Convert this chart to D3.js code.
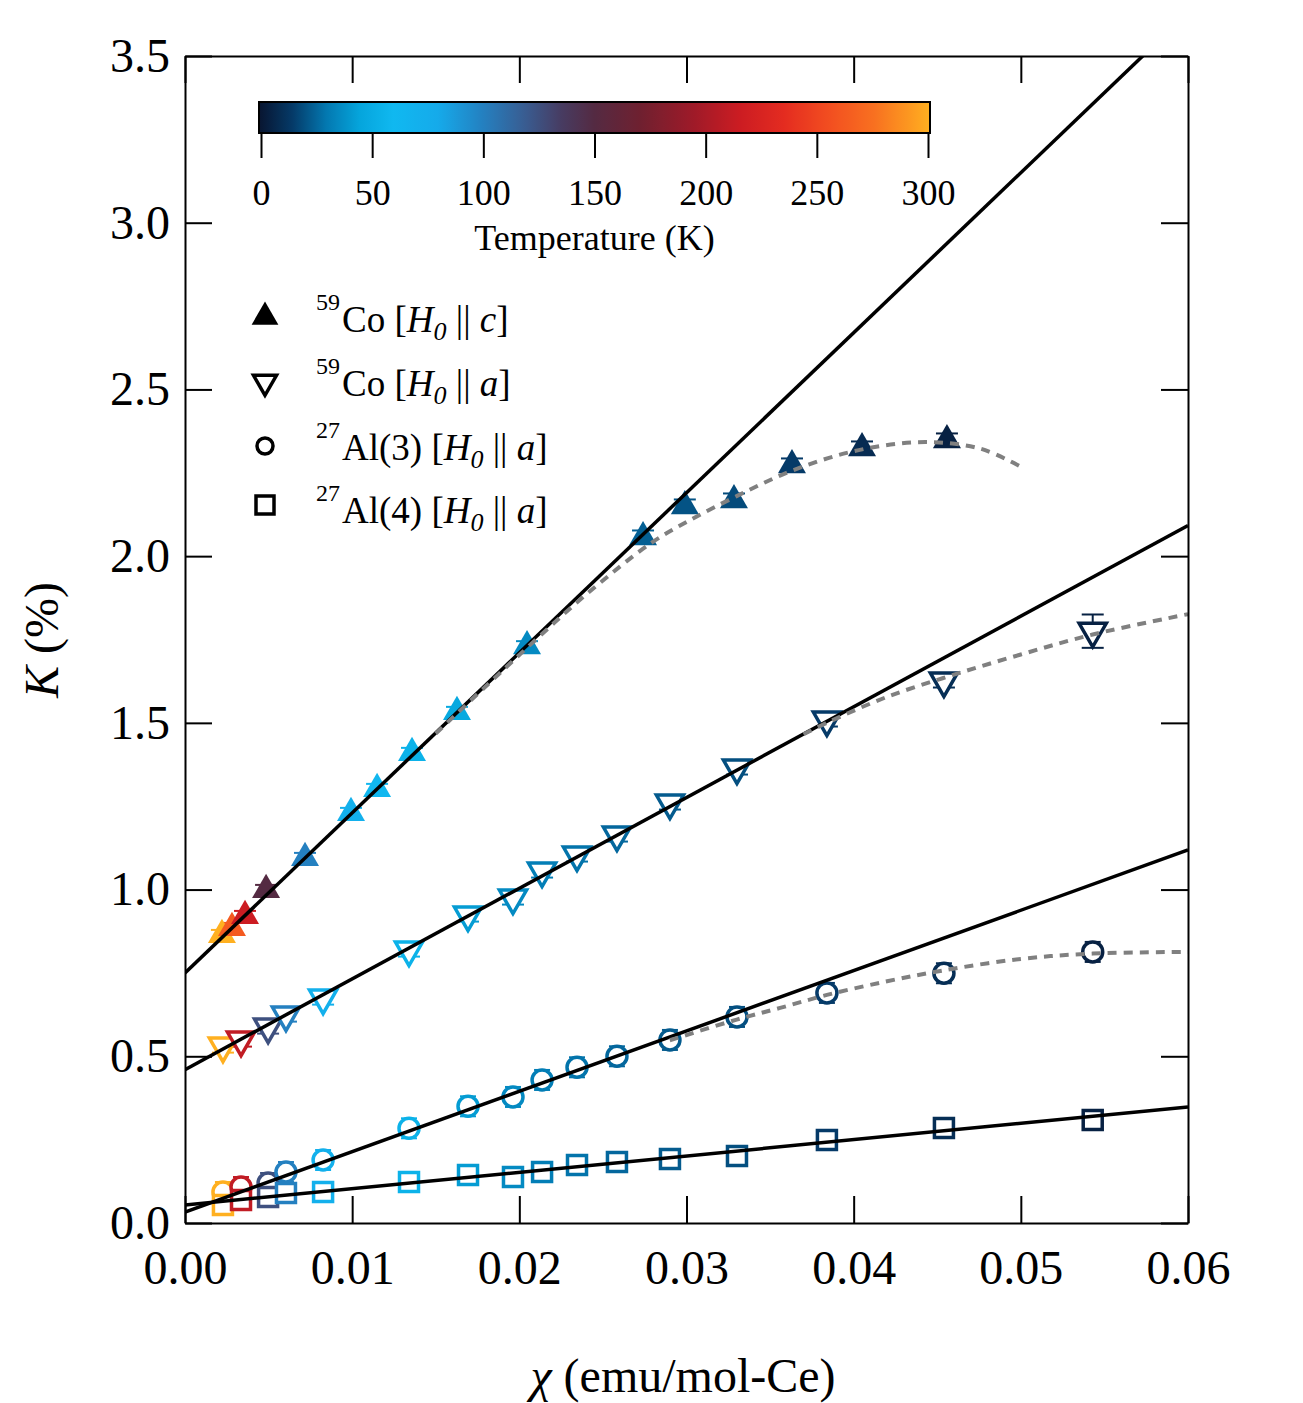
<!DOCTYPE html>
<html>
<head>
<meta charset="utf-8">
<script src="https://cdn.jsdelivr.net/npm/d3@7"></script>
<style>
  html, body { margin: 0; padding: 0; background: #fff; }
  svg { display: block; }
  text { font-family: "Liberation Serif", "Times New Roman", serif; fill: #000; }
</style>
</head>
<body>
<svg id="chart" width="1303" height="1403"></svg>
<script>
// ---------------- DATA ----------------
// 59Co, H0 || c  (filled up-triangles)
const chiC   = [0.00221, 0.00281, 0.00359, 0.00485, 0.00718, 0.00993, 0.01149, 0.01358, 0.01627, 0.02046, 0.0274, 0.0299, 0.03284, 0.03631, 0.0405, 0.04558];
const kCoC   = [0.864, 0.885, 0.921, 0.999, 1.095, 1.230, 1.302, 1.410, 1.533, 1.730, 2.057, 2.150, 2.168, 2.273, 2.324, 2.348];
const errCoC = [0.015, 0.015, 0.015, 0.015, 0.015, 0.015, 0.015, 0.015, 0.015, 0.015, 0.02, 0.02, 0.02, 0.02, 0.02, 0.02];
const tempC  = [300, 262, 215, 150, 100, 72, 62, 55, 48, 36, 24, 21, 19, 15, 9, 5];

// H0 || a  (shared susceptibility / temperature)
const chiA   = [0.00227, 0.00335, 0.00497, 0.00604, 0.00826, 0.0134, 0.01693, 0.01962, 0.02136, 0.02345, 0.02584, 0.02901, 0.03302, 0.0384, 0.0454, 0.0543];
const tempA  = [300, 210, 125, 100, 72, 55, 42, 36, 32, 29, 26, 23, 20, 15, 10, 5];
const kCoA   = [0.531, 0.549, 0.588, 0.624, 0.675, 0.819, 0.924, 0.975, 1.056, 1.104, 1.164, 1.260, 1.365, 1.509, 1.626, 1.775];
const errCoA = [0.02, 0.02, 0.02, 0.02, 0.02, 0.02, 0.02, 0.02, 0.02, 0.02, 0.02, 0.02, 0.02, 0.02, 0.02, 0.05];
const kAl3   = [0.093, 0.108, 0.120, 0.153, 0.189, 0.284, 0.350, 0.378, 0.429, 0.467, 0.500, 0.549, 0.618, 0.690, 0.749, 0.813];
const errAl3 = [0.03, 0.03, 0.03, 0.03, 0.03, 0.03, 0.03, 0.03, 0.03, 0.03, 0.03, 0.03, 0.03, 0.03, 0.03, 0.03];
const kAl4   = [0.054, 0.069, 0.078, 0.090, 0.093, 0.123, 0.144, 0.138, 0.153, 0.174, 0.183, 0.192, 0.201, 0.249, 0.285, 0.309];
const errAl4 = [0.01, 0.01, 0.01, 0.01, 0.01, 0.01, 0.01, 0.01, 0.01, 0.01, 0.01, 0.01, 0.01, 0.01, 0.01, 0.01];

// linear fits K = a + b*chi  (CoC, CoA, Al3, Al4)
const fitIntercept = [0.75, 0.46, 0.033, 0.054];
const fitSlope     = [48.0, 27.2, 18.1, 4.9];

// dashed guide curves
const dashCoCx = [0.015, 0.018, 0.021, 0.024, 0.0279, 0.0301, 0.033, 0.0364, 0.0403, 0.0443, 0.0476, 0.050];
const dashCoCk = [1.468, 1.610, 1.750, 1.885, 2.040, 2.105, 2.180, 2.258, 2.318, 2.342, 2.322, 2.268];
const dashCoAx = [0.037, 0.0386, 0.042, 0.0459, 0.050, 0.0543, 0.060];
const dashCoAk = [1.466, 1.505, 1.578, 1.643, 1.705, 1.765, 1.826];
const dashAl3x = [0.029, 0.033, 0.0356, 0.0384, 0.042, 0.0453, 0.050, 0.0543, 0.060];
const dashAl3k = [0.548, 0.610, 0.645, 0.684, 0.725, 0.757, 0.792, 0.808, 0.813];

// ticks
const xTicks = [0, 0.01, 0.02, 0.03, 0.04, 0.05, 0.06];
const yTicks = [0, 0.5, 1.0, 1.5, 2.0, 2.5, 3.0, 3.5];
const tTicks = [0, 50, 100, 150, 200, 250, 300];

// colormap stops (temperature -> colour)
const cmapT = [0, 15, 30, 45, 60, 80, 100, 120, 135, 150, 170, 195, 215, 235, 255, 275, 300];
const cmapC = ["#081530", "#053a68", "#0378b0", "#05a5dc", "#10b8f0", "#15aaea", "#2480c0", "#3a5a8e", "#473c62", "#542a42", "#6e2030", "#a01a28", "#cc1c22", "#e42c20", "#f24e20", "#f87020", "#ffb020"];

// legend labels
const legendIso  = ["59", "59", "27", "27"];
const legendName = ["Co", "Co", "Al(3)", "Al(4)"];
const legendDir  = ["c", "a", "a", "a"];

// ---------------- DRAW ----------------
const svg = d3.select("#chart");
const L = 185, R = 1188, T = 56, B = 1223;
const x = d3.scaleLinear().domain([0, 0.06]).range([L, R]);
const y = d3.scaleLinear().domain([0, 3.5]).range([B, T]);
const color = d3.scaleLinear().domain(cmapT).range(cmapC).interpolate(d3.interpolateRgb).clamp(true);

svg.append("rect").attr("width", 1303).attr("height", 1403).attr("fill", "#fff");

svg.append("defs").append("clipPath").attr("id", "clip")
  .append("rect").attr("x", L).attr("y", T).attr("width", R - L).attr("height", B - T);

const plot = svg.append("g").attr("clip-path", "url(#clip)");

// error bars + markers
function drawSeries(xs, ks, errs, temps, shape, capW) {
  const data = xs.map((c, i) => ({c, k: ks[i], e: errs[i], t: temps[i]}));
  const g = plot.append("g");
  const eb = g.selectAll("g.eb").data(data).join("g").attr("stroke", d => color(d.t)).attr("stroke-width", 2);
  eb.append("line").attr("x1", d => x(d.c)).attr("x2", d => x(d.c)).attr("y1", d => y(d.k - d.e)).attr("y2", d => y(d.k + d.e));
  eb.append("line").attr("x1", d => x(d.c) - capW / 2).attr("x2", d => x(d.c) + capW / 2).attr("y1", d => y(d.k - d.e)).attr("y2", d => y(d.k - d.e));
  eb.append("line").attr("x1", d => x(d.c) - capW / 2).attr("x2", d => x(d.c) + capW / 2).attr("y1", d => y(d.k + d.e)).attr("y2", d => y(d.k + d.e));
  const m = g.selectAll("path.m").data(data).join("path");
  if (shape === "up") {
    m.attr("d", d3.symbol(d3.symbolTriangle, 340)()).attr("fill", d => color(d.t))
     .attr("transform", d => `translate(${x(d.c)},${y(d.k)})`);
  } else if (shape === "down") {
    m.attr("d", d3.symbol(d3.symbolTriangle, 320)()).attr("fill", "#fff").attr("stroke", d => color(d.t)).attr("stroke-width", 3.5)
     .attr("stroke-linejoin", "miter")
     .attr("transform", d => `translate(${x(d.c)},${y(d.k)}) rotate(180)`);
  } else if (shape === "circle") {
    m.attr("d", d3.symbol(d3.symbolCircle, Math.PI * 10 * 10)()).attr("fill", "#fff").attr("stroke", d => color(d.t)).attr("stroke-width", 3.5)
     .attr("transform", d => `translate(${x(d.c)},${y(d.k)})`);
  } else {
    m.attr("d", d3.symbol(d3.symbolSquare, 19 * 19)()).attr("fill", "#fff").attr("stroke", d => color(d.t)).attr("stroke-width", 3.5)
     .attr("transform", d => `translate(${x(d.c)},${y(d.k)})`);
  }
}
drawSeries(chiA, kAl3, errAl3, tempA, "circle", 16);
drawSeries(chiA, kAl4, errAl4, tempA, "square", 14);
drawSeries(chiA, kCoA, errCoA, tempA, "down", 22);
drawSeries(chiC, kCoC, errCoC, tempC, "up", 22);

// fit lines
fitIntercept.forEach((a, i) => {
  const b = fitSlope[i];
  const pts = [0, 0.06].map(c => [x(c), y(a + b * c)]);
  plot.append("path").attr("d", d3.line()(pts)).attr("fill", "none").attr("stroke", "#000").attr("stroke-width", 3.5);
});

// dashed curves
[[dashCoCx, dashCoCk], [dashCoAx, dashCoAk], [dashAl3x, dashAl3k]].forEach(([xs, ks]) => {
  const line = d3.line().x(d => x(d[0])).y(d => y(d[1])).curve(d3.curveCatmullRom);
  plot.append("path").attr("d", line(xs.map((c, i) => [c, ks[i]])))
    .attr("fill", "none").attr("stroke", "#808080").attr("stroke-width", 4).attr("stroke-dasharray", "9,7");
});

// axes
const tickLen = 27;
const fontAxis = 48;
const gx = svg.append("g").attr("transform", `translate(0,${B})`)
  .call(d3.axisBottom(x).tickValues(xTicks).tickFormat(d3.format(".2f")).tickSizeInner(-tickLen).tickSizeOuter(0).tickPadding(27));
const gxt = svg.append("g").attr("transform", `translate(0,${T})`)
  .call(d3.axisTop(x).tickValues(xTicks).tickFormat("").tickSizeInner(-tickLen).tickSizeOuter(0));
const gy = svg.append("g").attr("transform", `translate(${L},0)`)
  .call(d3.axisLeft(y).tickValues(yTicks).tickFormat(d3.format(".1f")).tickSizeInner(-tickLen).tickSizeOuter(0).tickPadding(15));
const gyr = svg.append("g").attr("transform", `translate(${R},0)`)
  .call(d3.axisRight(y).tickValues(yTicks).tickFormat("").tickSizeInner(-tickLen).tickSizeOuter(0));
[gx, gxt, gy, gyr].forEach(g => {
  g.selectAll("path.domain").attr("stroke", "#000").attr("stroke-width", 2);
  g.selectAll(".tick line").attr("stroke", "#000").attr("stroke-width", 2);
  g.selectAll("text").attr("font-family", "Liberation Serif, Times New Roman, serif").attr("font-size", fontAxis).attr("fill", "#000");
});

// axis titles
svg.append("text").attr("transform", `translate(58,640) rotate(-90)`).attr("text-anchor", "middle")
  .attr("font-size", 48)
  .call(t => { t.append("tspan").attr("font-style", "italic").text("K"); t.append("tspan").text(" (%)"); });
svg.append("text").attr("x", 683).attr("y", 1392).attr("text-anchor", "middle").attr("font-size", 48)
  .call(t => { t.append("tspan").attr("font-style", "italic").text("χ"); t.append("tspan").text(" (emu/mol-Ce)"); });

// colorbar
const cb = d3.scaleLinear().domain([0, 300]).range([261, 928]);
const grad = svg.select("defs").append("linearGradient").attr("id", "cbgrad").attr("x1", "0%").attr("x2", "100%").attr("y1", "0%").attr("y2", "0%");
d3.range(0, 301, 5).forEach(t => grad.append("stop").attr("offset", (t / 300 * 100) + "%").attr("stop-color", color(t)));
svg.append("rect").attr("x", cb(0) - 2).attr("y", 102).attr("width", cb(300) - cb(0) + 4).attr("height", 31)
  .attr("fill", "url(#cbgrad)").attr("stroke", "#000").attr("stroke-width", 2);
const gcb = svg.append("g").attr("transform", "translate(0,133)")
  .call(d3.axisBottom(cb).tickValues(tTicks).tickFormat(d3.format("d")).tickSizeInner(25).tickSizeOuter(0).tickPadding(21));
gcb.select("path.domain").remove();
gcb.selectAll(".tick line").attr("stroke", "#000").attr("stroke-width", 2);
gcb.selectAll("text").attr("font-family", "Liberation Serif, Times New Roman, serif").attr("font-size", 36).attr("fill", "#000");
svg.append("text").attr("x", cb(150)).attr("y", 250).attr("text-anchor", "middle").attr("font-size", 36).text("Temperature (K)");

// legend
const legY = [317, 382, 446, 505];
const legBase = [332, 396, 460, 523];
const lg = svg.append("g");
lg.append("path").attr("d", d3.symbol(d3.symbolTriangle, 310)()).attr("transform", `translate(265,${legY[0]})`).attr("fill", "#000");
lg.append("path").attr("d", d3.symbol(d3.symbolTriangle, 230)()).attr("transform", `translate(265,${legY[1]}) rotate(180)`).attr("fill", "none").attr("stroke", "#000").attr("stroke-width", 3.5);
lg.append("circle").attr("cx", 265).attr("cy", legY[2]).attr("r", 8).attr("fill", "none").attr("stroke", "#000").attr("stroke-width", 3.5);
lg.append("rect").attr("x", 265 - 9).attr("y", legY[3] - 9).attr("width", 18).attr("height", 18).attr("fill", "none").attr("stroke", "#000").attr("stroke-width", 3.5);
legendName.forEach((nm, i) => {
  lg.append("text").attr("x", 316).attr("y", legBase[i] - 22).attr("font-size", 24).text(legendIso[i]);
  const t = lg.append("text").attr("x", 342).attr("y", legBase[i]).attr("font-size", 37);
  t.append("tspan").text(nm + " [");
  t.append("tspan").attr("font-style", "italic").text("H");
  t.append("tspan").attr("font-style", "italic").attr("font-size", 26).attr("dy", 8).text("0");
  t.append("tspan").attr("dy", -8).text(" || ");
  t.append("tspan").attr("font-style", "italic").text(legendDir[i]);
  t.append("tspan").text("]");
});
</script>
</body>
</html>
